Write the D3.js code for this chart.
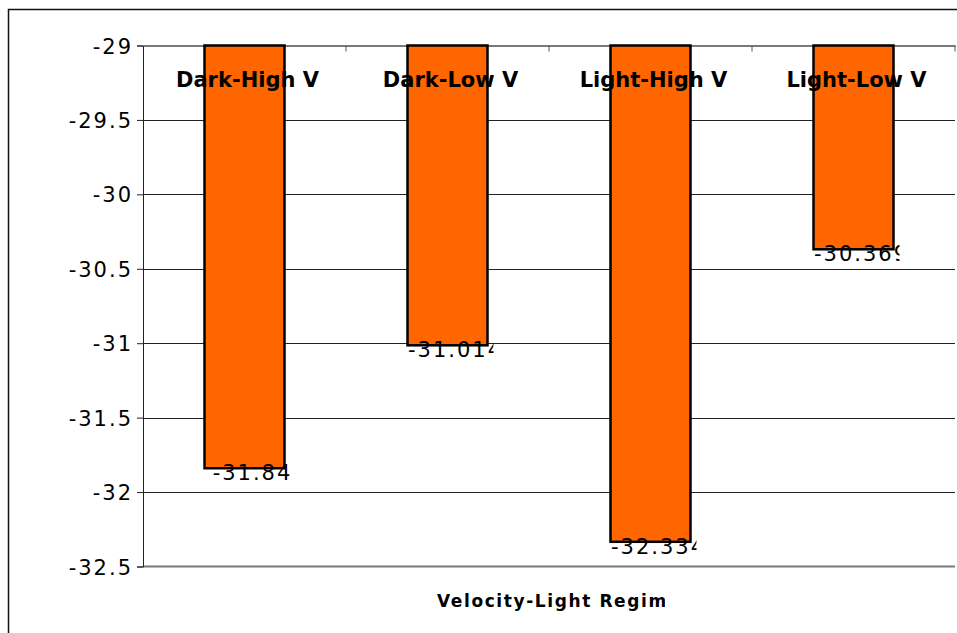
<!DOCTYPE html>
<html>
<head>
<meta charset="utf-8">
<script src="https://cdn.jsdelivr.net/npm/d3@7"></script>
<style>
  html, body { margin: 0; padding: 0; background: #fff; }
  svg { display: block; }
  text { font-family: "DejaVu Sans", Verdana, sans-serif; fill: #000; }
</style>
</head>
<body>
<svg id="chart" width="957" height="633"></svg>
<script>
// Mean values per velocity-light regime
const categories = ["Dark-High V", "Dark-Low V", "Light-High V", "Light-Low V"];
const values = [-31.84, -31.014, -32.334, -30.369];
const valueLabels = ["-31.84", "-31.014", "-32.334", "-30.369"];
const yTicks = [-29, -29.5, -30, -30.5, -31, -31.5, -32, -32.5];
const yTickLabels = ["-29", "-29.5", "-30", "-30.5", "-31", "-31.5", "-32", "-32.5"];
const axisTitle = "Velocity-Light Regime";

const svg = d3.select("#chart");
const plot = { left: 143, right: 955, top: 45.5, bottom: 566.5 };

// Outer chart frame (runs off the right and bottom edges)
svg.append("rect")
  .attr("x", 8.5).attr("y", 9.5)
  .attr("width", 1200).attr("height", 1200)
  .attr("fill", "none").attr("stroke", "#111").attr("stroke-width", 1.5);

const x = d3.scaleBand().domain(categories).range([plot.left, plot.right]).paddingInner(0).paddingOuter(0);
const y = d3.scaleLinear().domain([-29, -32.5]).range([plot.top, plot.bottom]);

const defs = svg.append("defs");

// Horizontal gridlines
svg.append("g").selectAll("line")
  .data(yTicks.filter(v => v !== -29 && v !== -32.5))
  .join("line")
  .attr("x1", plot.left).attr("x2", plot.right)
  .attr("y1", d => Math.round(y(d)) + 0.5).attr("y2", d => Math.round(y(d)) + 0.5)
  .attr("stroke", "#222").attr("stroke-width", 1);

// Bottom boundary line
svg.append("line")
  .attr("x1", plot.left).attr("x2", plot.right)
  .attr("y1", y(-32.5)).attr("y2", y(-32.5))
  .attr("stroke", "#7a7a7a").attr("stroke-width", 2);

// Category axis along the top (value -29) with inward ticks
const xAxis = d3.axisTop(x).tickSize(0).tickFormat("");
const gx = svg.append("g").attr("transform", `translate(0,${y(-29)})`).call(xAxis);
gx.select(".domain").attr("stroke", "#7a7a7a").attr("stroke-width", 2);
const bounds = categories.map(c => x(c) + x.bandwidth());
gx.selectAll(".bound").data(bounds).join("line")
  .attr("class", "bound")
  .attr("x1", d => d).attr("x2", d => d)
  .attr("y1", 0).attr("y2", 6)
  .attr("stroke", "#555").attr("stroke-width", 1);

// Value axis on the left
const yAxis = d3.axisLeft(y).tickValues(yTicks).tickSize(6)
  .tickFormat((d, i) => yTickLabels[i]);
const gy = svg.append("g").attr("transform", `translate(${plot.left},0)`).call(yAxis);
gy.select(".domain").attr("stroke", "#222").attr("stroke-width", 1);
gy.selectAll(".tick line").attr("stroke", "#222");
gy.selectAll(".tick text")
  .attr("x", -10)
  .attr("dy", "0.36em")
  .style("font-family", "'DejaVu Sans', Verdana, sans-serif")
  .style("font-size", "21px")
  .style("letter-spacing", "2px")
  .attr("fill", "#000");

// Bars hanging from the -29 baseline
const barW = 80;
svg.append("g").selectAll("rect")
  .data(values)
  .join("rect")
  .attr("x", (d, i) => x(categories[i]) + x.bandwidth() / 2 - barW / 2)
  .attr("y", y(-29))
  .attr("width", barW)
  .attr("height", d => y(d) - y(-29))
  .attr("fill", "#FF6600")
  .attr("stroke", "#000")
  .attr("stroke-width", 2.5);

// Value labels under each bar, clipped to a fixed-width label box
values.forEach((v, i) => {
  const c = x(categories[i]) + x.bandwidth() / 2;
  defs.append("clipPath").attr("id", "vclip" + i)
    .append("rect")
    .attr("x", c - 60).attr("y", y(v) - 10)
    .attr("width", 106).attr("height", 40);
  svg.append("text")
    .attr("clip-path", `url(#vclip${i})`)
    .attr("x", c + 8)
    .attr("y", y(v) + 12)
    .attr("text-anchor", "middle")
    .style("font-size", "21px")
    .style("letter-spacing", "2px")
    .text(valueLabels[i]);
});

// Category labels across the top of the plot
svg.append("g").selectAll("text")
  .data(categories)
  .join("text")
  .attr("x", d => x(d) + x.bandwidth() / 2 + 3)
  .attr("y", 87)
  .attr("text-anchor", "middle")
  .style("font-size", "21px")
  .style("font-weight", "bold")
  .text(d => d);

// Axis title (clipped to its label box)
defs.append("clipPath").attr("id", "tclip")
  .append("rect").attr("x", 400).attr("y", 585).attr("width", 265).attr("height", 30);
svg.append("text")
  .attr("clip-path", "url(#tclip)")
  .attr("x", 437)
  .attr("y", 607)
  .style("font-size", "17px")
  .style("font-weight", "bold")
  .style("letter-spacing", "1.6px")
  .text(axisTitle);
</script>
</body>
</html>
